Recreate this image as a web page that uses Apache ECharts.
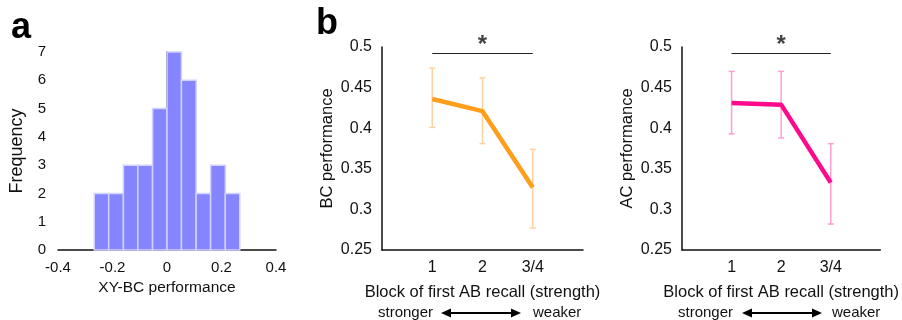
<!DOCTYPE html>
<html>
<head>
<meta charset="utf-8">
<script src="https://cdn.jsdelivr.net/npm/echarts@6/dist/echarts.min.js"></script>
<style>
  html, body { margin: 0; padding: 0; background: #fff; }
  #main { width: 902px; height: 320px; }
</style>
</head>
<body>
<div id="main"></div>
<script>
// panel a: histogram of XY-BC performance
const binEdges = [-0.267, -0.214, -0.160, -0.107, -0.053, 0, 0.053, 0.107, 0.160, 0.214, 0.267];
const binCounts = [2, 2, 3, 3, 5, 7, 6, 2, 3, 2];

// panel b: block of first AB recall
const blockPos = [1, 2, 3];
const blockLabels = ["1", "2", "3/4"];
const bcMean = [0.436, 0.421, 0.327];
const bcLow = [0.401, 0.381, 0.277];
const bcHigh = [0.474, 0.462, 0.374];
const acMean = [0.431, 0.429, 0.333];
const acLow = [0.393, 0.388, 0.282];
const acHigh = [0.470, 0.470, 0.381];
const sigSpan = [1, 3];
const sigLevel = 0.492;

const FONT = "Liberation Sans";
const ORANGE = "#FF9E1B";
const ORANGE_LIGHT = "#FFD2A3";
const PINK = "#FF0A8C";
const PINK_LIGHT = "#FF9FD0";

const chart = echarts.init(document.getElementById("main"));

const histData = binCounts.map((c, i) => [binEdges[i], binEdges[i + 1], c]);

const pairs = (xs, ys) => xs.map((x, i) => [x, ys[i]]);
const errData = (lo, hi) => blockPos.map((x, i) => [x, lo[i], hi[i]]);

const errorBars = (api) => {
  const top = api.coord([api.value(0), api.value(2)]);
  const bot = api.coord([api.value(0), api.value(1)]);
  const color = api.visual("color");
  const st = { stroke: color, lineWidth: 1.5 };
  return {
    type: "group",
    children: [
      { type: "line", shape: { x1: top[0], y1: top[1], x2: bot[0], y2: bot[1] }, style: st },
      { type: "line", shape: { x1: top[0] - 3, y1: top[1], x2: top[0] + 3, y2: top[1] }, style: st },
      { type: "line", shape: { x1: bot[0] - 3, y1: bot[1], x2: bot[0] + 3, y2: bot[1] }, style: st },
    ],
  };
};

const axisLine = { show: true, lineStyle: { color: "#111", width: 1.5 } };

const bXAxis = (gi) => ({
  type: "value", gridIndex: gi, min: 0, max: 4, interval: 1,
  axisLine: axisLine, axisTick: { show: false }, splitLine: { show: false },
  axisLabel: {
    color: "#111", fontFamily: FONT, fontSize: 16, margin: 10,
    formatter: (v) => (v >= 1 && v <= 3 ? blockLabels[v - 1] : ""),
  },
  name: "Block of first AB recall (strength)", nameLocation: "middle", nameGap: 34,
  nameTextStyle: { color: "#111", fontFamily: FONT, fontSize: 16.5 },
});

const bYAxis = (gi, name) => ({
  type: "value", gridIndex: gi, min: 0.25, max: 0.5, interval: 0.05,
  axisLine: axisLine, axisTick: { show: false }, splitLine: { show: false },
  axisLabel: { color: "#111", fontFamily: FONT, fontSize: 16, margin: 10 },
  name: name, nameLocation: "middle", nameGap: 46,
  nameTextStyle: { color: "#111", fontFamily: FONT, fontSize: 16.5 },
});

const sigSeries = (xi) => [
  {
    type: "line", xAxisIndex: xi, yAxisIndex: xi, symbol: "none", silent: true,
    data: pairs(sigSpan, [sigLevel, sigLevel]),
    lineStyle: { color: "#222", width: 1.2 }, z: 3,
  },
  {
    type: "scatter", xAxisIndex: xi, yAxisIndex: xi, symbolSize: 0, silent: true,
    data: [[(sigSpan[0] + sigSpan[1]) / 2, sigLevel]],
    label: {
      show: true, formatter: "*", position: "top", distance: -4,
      color: "#111", fontFamily: FONT, fontSize: 24, fontWeight: "bold",
    },
  },
];

const arrow = (xStart, xEnd, y, strongerRight, weakerLeft) => [
  { type: "line", shape: { x1: xStart + 6, y1: y, x2: xEnd - 6, y2: y }, style: { stroke: "#000", lineWidth: 2 } },
  { type: "polygon", shape: { points: [[xStart, y], [xStart + 10, y - 4.5], [xStart + 10, y + 4.5]] }, style: { fill: "#000" } },
  { type: "polygon", shape: { points: [[xEnd, y], [xEnd - 10, y - 4.5], [xEnd - 10, y + 4.5]] }, style: { fill: "#000" } },
  { type: "text", x: strongerRight, y: y, style: { text: "stronger", align: "right", verticalAlign: "middle", fill: "#111", font: "15px " + FONT } },
  { type: "text", x: weakerLeft, y: y, style: { text: "weaker", align: "left", verticalAlign: "middle", fill: "#111", font: "15px " + FONT } },
];

chart.setOption({
  animation: false,
  grid: [
    { left: 58, top: 52, width: 218, height: 198 },
    { left: 382, top: 47, width: 201, height: 203 },
    { left: 682, top: 47, width: 201, height: 203 },
  ],
  xAxis: [
    {
      type: "value", gridIndex: 0, min: -0.4, max: 0.4, interval: 0.2,
      axisLine: axisLine, axisTick: { show: false }, splitLine: { show: false },
      axisLabel: { color: "#111", fontFamily: FONT, fontSize: 15, margin: 10 },
      name: "XY-BC performance", nameLocation: "middle", nameGap: 30,
      nameTextStyle: { color: "#111", fontFamily: FONT, fontSize: 15.5 },
    },
    bXAxis(1),
    bXAxis(2),
  ],
  yAxis: [
    {
      type: "value", gridIndex: 0, min: 0, max: 7, interval: 1,
      axisLine: axisLine, axisTick: { show: false }, splitLine: { show: false },
      axisLabel: { color: "#111", fontFamily: FONT, fontSize: 15, margin: 12 },
      name: "Frequency", nameLocation: "middle", nameGap: 32,
      nameTextStyle: { color: "#111", fontFamily: FONT, fontSize: 18 },
    },
    bYAxis(1, "BC performance"),
    bYAxis(2, "AC performance"),
  ],
  series: [
    {
      type: "custom", xAxisIndex: 0, yAxisIndex: 0, data: histData,
      renderItem: (params, api) => {
        const p0 = api.coord([api.value(0), api.value(2)]);
        const p1 = api.coord([api.value(1), 0]);
        return {
          type: "rect",
          shape: { x: p0[0], y: p0[1], width: p1[0] - p0[0], height: p1[1] - p0[1] },
          style: { fill: "#8585FF", stroke: "#D2D2FF", lineWidth: 1.5 },
        };
      },
    },
    {
      type: "custom", xAxisIndex: 1, yAxisIndex: 1, data: errData(bcLow, bcHigh),
      itemStyle: { color: ORANGE_LIGHT }, renderItem: (p, api) => errorBars(api), z: 1,
    },
    {
      type: "line", xAxisIndex: 1, yAxisIndex: 1, data: pairs(blockPos, bcMean),
      symbol: "none", lineStyle: { color: ORANGE, width: 4.5 }, z: 2,
    },
    {
      type: "custom", xAxisIndex: 2, yAxisIndex: 2, data: errData(acLow, acHigh),
      itemStyle: { color: PINK_LIGHT }, renderItem: (p, api) => errorBars(api), z: 1,
    },
    {
      type: "line", xAxisIndex: 2, yAxisIndex: 2, data: pairs(blockPos, acMean),
      symbol: "none", lineStyle: { color: PINK, width: 4.5 }, z: 2,
    },
    ...sigSeries(1),
    ...sigSeries(2),
  ],
  graphic: [
    { type: "text", left: 11, top: 10, style: { text: "a", fill: "#000", font: "bold 36px " + FONT } },
    { type: "text", left: 316, top: 6, style: { text: "b", fill: "#000", font: "bold 36px " + FONT } },
    ...arrow(441, 521, 313, 433, 533),
    ...arrow(742, 822, 313, 733, 832),
  ],
});
</script>
</body>
</html>
